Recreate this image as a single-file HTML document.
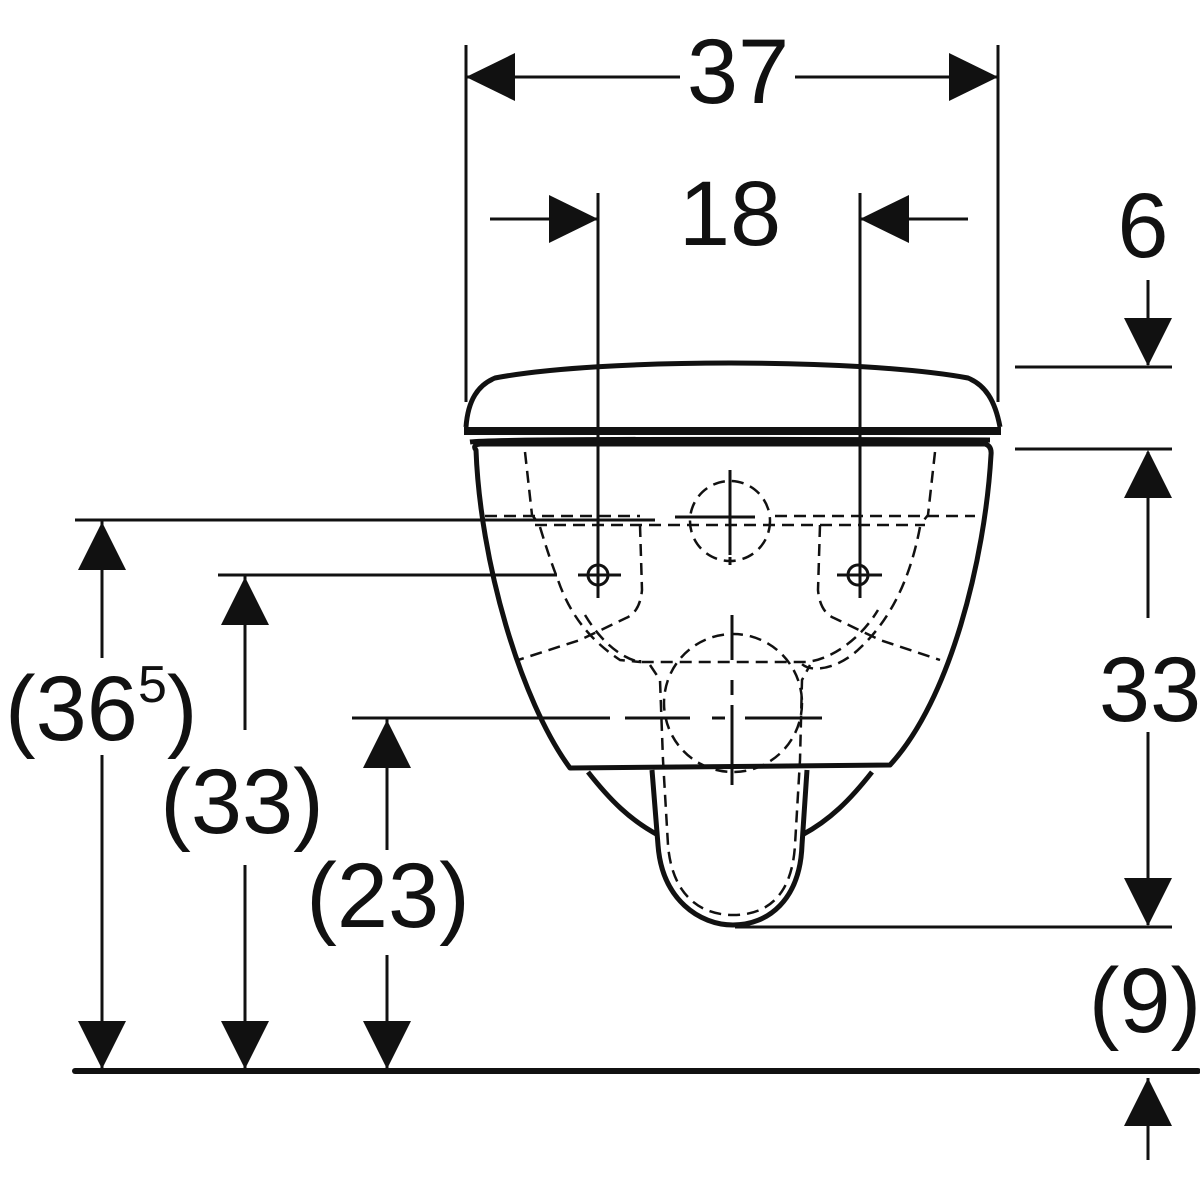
<!DOCTYPE html>
<html><head><meta charset="utf-8"><style>
html,body{margin:0;padding:0;background:#fff;}
svg{display:block;}
text{font-family:"Liberation Sans",Arial,sans-serif;fill:#111;font-size:92px;}
</style></head><body>
<svg width="1200" height="1200" viewBox="0 0 1200 1200" xmlns="http://www.w3.org/2000/svg">
<g stroke="#111" stroke-width="3" fill="none">
<!-- 37 dimension -->
<line x1="466" y1="45" x2="466" y2="402"/>
<line x1="998" y1="45" x2="998" y2="402"/>
<line x1="466" y1="77" x2="680" y2="77"/>
<line x1="795" y1="77" x2="998" y2="77"/>
<!-- 18 dimension -->
<line x1="598" y1="193" x2="598" y2="598"/>
<line x1="860" y1="193" x2="860" y2="598"/>
<line x1="490" y1="219" x2="598" y2="219"/>
<line x1="860" y1="219" x2="968" y2="219"/>
<!-- right dims -->
<line x1="1015" y1="367" x2="1172" y2="367"/>
<line x1="1015" y1="449" x2="1172" y2="449"/>
<line x1="1148" y1="280" x2="1148" y2="365"/>
<line x1="1148" y1="452" x2="1148" y2="618"/>
<line x1="1148" y1="732" x2="1148" y2="925"/>
<line x1="735" y1="927" x2="1172" y2="927"/>
<line x1="1148" y1="1078" x2="1148" y2="1160"/>
<!-- left dims -->
<line x1="75" y1="520" x2="655" y2="520"/>
<line x1="218" y1="575" x2="557" y2="575"/>
<line x1="352" y1="718" x2="610" y2="718"/>
<line x1="102" y1="520" x2="102" y2="658"/>
<line x1="102" y1="755" x2="102" y2="1068"/>
<line x1="245" y1="575" x2="245" y2="730"/>
<line x1="245" y1="865" x2="245" y2="1068"/>
<line x1="387" y1="718" x2="387" y2="850"/>
<line x1="387" y1="955" x2="387" y2="1068"/>
</g>
<line x1="75" y1="1071" x2="1198" y2="1071" stroke="#111" stroke-width="6" stroke-linecap="round"/>
<!-- arrowheads -->
<g fill="#111">
<polygon points="466,77 515,53 515,101"/>
<polygon points="998,77 949,53 949,101"/>
<polygon points="598,219 549,195 549,243"/>
<polygon points="860,219 909,195 909,243"/>
<polygon points="1148,366 1124,318 1172,318"/>
<polygon points="1148,450 1124,498 1172,498"/>
<polygon points="1148,926 1124,878 1172,878"/>
<polygon points="1148,1078 1124,1126 1172,1126"/>
<polygon points="102,522 78,570 126,570"/>
<polygon points="102,1069 78,1021 126,1021"/>
<polygon points="245,577 221,625 269,625"/>
<polygon points="245,1069 221,1021 269,1021"/>
<polygon points="387,720 363,768 411,768"/>
<polygon points="387,1069 363,1021 411,1021"/>
</g>
<!-- toilet outlines -->
<g stroke="#111" stroke-width="5" fill="none" stroke-linejoin="round">
<path d="M466,427 C468,400 478,385 495,378 C600,358 860,358 968,378 C985,385 995,400 1000,427"/>
<line x1="464" y1="431" x2="1001" y2="431" stroke-width="8"/>
<path d="M470,442 Q500,438 990,440"/>
<path d="M476,450 Q472,445 480,444 L985,444 Q992,446 991,455 C985,560 950,700 890,765 L570,768 C520,700 480,560 476,450 Z"/>
<path d="M588,772 C610,800 630,820 658,835"/>
<path d="M872,772 C850,800 830,820 802,835"/>
<path d="M652,770 L658,845 C662,900 700,925 733,925 C768,925 800,900 802,845 L807,770"/>
</g>
<!-- dashed hidden lines -->
<g stroke="#111" stroke-width="2.5" fill="none" stroke-dasharray="12,7">
<circle cx="730" cy="521" r="40"/>
<circle cx="733" cy="703" r="69"/>
<path d="M525,452 L532,515 L540,525"/>
<path d="M935,452 L928,515 L920,525"/>
<line x1="485" y1="516" x2="640" y2="516"/>
<line x1="775" y1="516" x2="975" y2="516"/>
<line x1="535" y1="525" x2="925" y2="525"/>
<path d="M540,527 Q550,560 558,580 C570,615 590,640 620,660 L640,662 L640,660"/>
<path d="M640,525 L642,590 Q640,612 626,618 L580,640 L518,660"/>
<path d="M820,525 L818,590 Q820,612 834,618 L880,640 L940,660"/>
<path d="M920,527 C910,580 890,620 860,648 C840,668 810,675 800,662"/>
<path d="M585,615 C600,640 620,658 640,662 L806,662 C830,660 860,640 878,610"/>
<path d="M650,665 L660,680 L663,760 L668,845 C672,895 700,915 733,915 C768,915 792,895 795,845 L800,760 L802,680 L810,665"/>
</g>
<!-- centre lines & holes -->
<g stroke="#111" stroke-width="3" fill="none">
<line x1="730" y1="470" x2="730" y2="555"/>
<line x1="675" y1="517" x2="755" y2="517"/>
<line x1="730" y1="557" x2="730" y2="565"/>
<line x1="732" y1="615" x2="732" y2="660"/>
<line x1="732" y1="680" x2="732" y2="695"/>
<line x1="732" y1="705" x2="732" y2="785"/>
<line x1="625" y1="718" x2="690" y2="718"/>
<line x1="712" y1="718" x2="725" y2="718"/>
<line x1="745" y1="718" x2="822" y2="718"/>
<circle cx="598" cy="575" r="10"/>
<line x1="578" y1="575" x2="621" y2="575"/>
<circle cx="858" cy="575" r="10"/>
<line x1="837" y1="575" x2="882" y2="575"/>
</g>
<!-- labels -->
<text x="738" y="103" text-anchor="middle">37</text>
<text x="730" y="245" text-anchor="middle">18</text>
<text x="1143" y="257" text-anchor="middle">6</text>
<text x="1150" y="721" text-anchor="middle">33</text>
<text x="1145" y="1032" text-anchor="middle">(9)</text>
<text x="5" y="740">(36<tspan font-size="52" dy="-38">5</tspan><tspan dy="38">)</tspan></text>
<text x="242" y="833" text-anchor="middle">(33)</text>
<text x="388" y="927" text-anchor="middle">(23)</text>
</svg>
</body></html>
